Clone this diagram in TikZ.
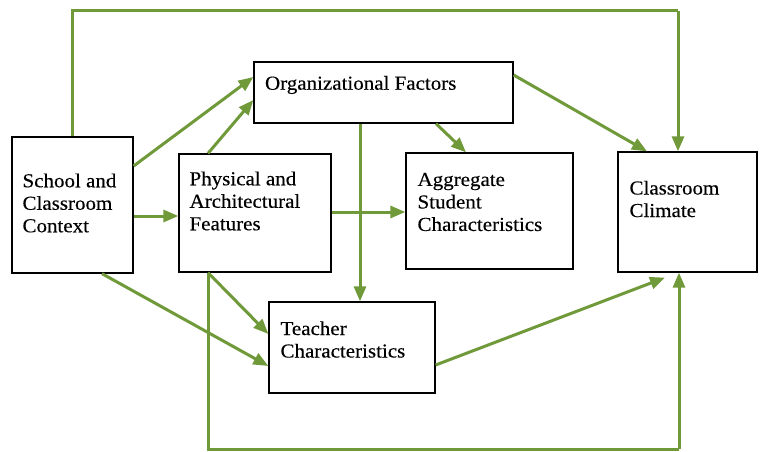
\documentclass[tikz,border=0pt]{standalone}
\usepackage{fontspec}
\setmainfont[FakeStretch=1.06,FakeBold=0.3]{Liberation Serif}
\usetikzlibrary{arrows.meta, positioning}
\definecolor{leaf}{RGB}{112,153,58}

\begin{document}
\begin{tikzpicture}[x=1pt,y=-1pt,
		box/.style={draw, line width=1.3pt, inner sep=0pt},
		txt/.style={align=left, inner sep=0pt, font=\fontsize{19.8}{22.5}\selectfont},
		wire/.style={draw=leaf, line width=3pt},
		flow/.style={wire, -{Triangle[length=15pt,width=12pt]}}]
		\useasboundingbox (0,0) rectangle (761,452);

		% boxes
		\node[box, minimum width=121pt, minimum height=136pt]	(school)	at (72.5,205)	{};
		\node[box, minimum width=152pt, minimum height=118pt]	(phys)		at (255,213)	{};
		\node[box, minimum width=259pt, minimum height=61pt]	(org)		at (383.5,92.5)	{};
		\node[box, minimum width=167pt, minimum height=116pt]	(aggr)		at (489.5,211)	{};
		\node[box, minimum width=139pt, minimum height=120pt]	(clim)		at (687.5,212)	{};
		\node[box, minimum width=166pt, minimum height=91pt]	(teach)		at (352,347.5)	{};

		% labels
		\node[txt, yshift=2pt]		(schooltxt)	[right=11pt of school.west]	{School and\\Classroom\\Context};
		\node[txt, yshift=12pt]		(physttxt)	[right=11pt of phys.west]	{Physical and\\Architectural\\Features};
		\node[txt, yshift=7.5pt]	(orgtxt)	[right=11.5pt of org.west]	{Organizational Factors};
		\node[txt, yshift=9pt]		(aggrtxt)	[right=12pt of aggr.west]	{Aggregate\\Student\\Characteristics};
		\node[txt, yshift=13pt]		(climtxt)	[right=12pt of clim.west]	{Classroom\\Climate};
		\node[txt, yshift=8pt]		(teachtxt)	[right=12pt of teach.west]	{Teacher\\Characteristics};

		% loops round the outside
		\coordinate (topr) at (678,11);
		\coordinate (botr) at (679,449);
		\path[wire] (school.north) |- (topr);
		\path[flow] (topr) -- (topr |- clim.north);
		\path[wire] ([xshift=-47pt]phys.south) |- (botr);
		\path[flow] (botr) -- (botr |- clim.south);

		\path
			([yshift=39pt]school.east)		edge[flow]	([yshift=15.5pt]org.west)
			([xshift=-47pt]phys.north)		edge[flow]	([yshift=-7.5pt]org.west)
			([yshift=-11pt]school.east)		edge[flow]	([yshift=-3pt]phys.west)
			([xshift=-23.5pt]org.south)		edge[flow]	([xshift=8pt]teach.north)
			([xshift=52.5pt]org.south)		edge[flow]	([xshift=-23.5pt]aggr.north)
			([yshift=17.5pt]org.east)		edge[flow]	([xshift=-40.5pt]clim.north)
			([yshift=1pt]phys.east)			edge[flow]	([yshift=-1pt]aggr.west)
			([xshift=-47pt]phys.south)		edge[flow]	([yshift=13.5pt]teach.west)
			([xshift=29.5pt]school.south)	edge[flow]	([yshift=-18.5pt]teach.west)
			([yshift=-17.5pt]teach.east)	edge[flow]	([xshift=-22.5pt,yshift=-5pt]clim.south)
			;
	\end{tikzpicture}
\end{document}
